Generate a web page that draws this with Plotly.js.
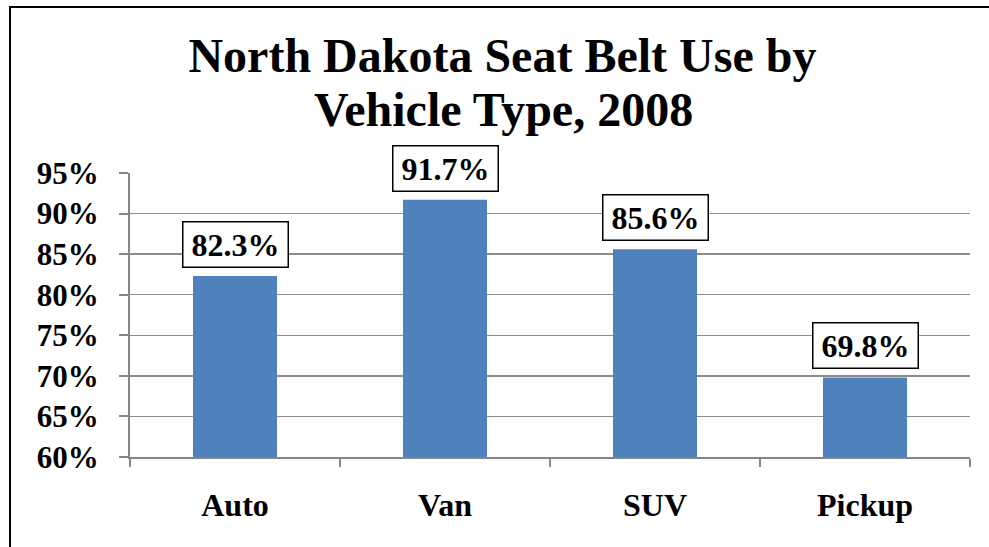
<!DOCTYPE html>
<html>
<head>
<meta charset="utf-8">
<script src="https://cdn.plot.ly/plotly-3.0.1.min.js"></script>
<style>
  html, body { margin: 0; padding: 0; background: #fff; overflow: hidden; }
  #chart { width: 989px; height: 547px; }
  #frame { position: absolute; left: 9px; top: 6px; width: 1000px; height: 600px; border: 2px solid #000; pointer-events: none; }
</style>
</head>
<body>
<div id="chart"></div>
<div id="frame"></div>
<script>
const categories = ["Auto", "Van", "SUV", "Pickup"];
const beltUse = [82.3, 91.7, 85.6, 69.8];
const yTickVals = [60, 65, 70, 75, 80, 85, 90, 95];
const yTickText = ["60%", "65%", "70%", "75%", "80%", "85%", "90%", "95%"];
const titleLine1 = "North Dakota Seat Belt Use by";
const titleLine2 = "Vehicle Type, 2008";

const font = "'Liberation Serif', 'Times New Roman', serif";

const trace = {
  type: "bar",
  x: categories,
  y: beltUse,
  marker: { color: "#4F81BD" },
  width: 0.4,
  hoverinfo: "x+y"
};

const annotations = categories.map((c, i) => ({
  x: c, y: beltUse[i], xref: "x", yref: "y",
  text: "<b>" + beltUse[i].toFixed(1) + "%</b>",
  showarrow: false, yanchor: "bottom", yshift: 8,
  font: { family: font, size: 32, color: "#000" },
  bgcolor: "#fff", bordercolor: "#000", borderwidth: 1.5, borderpad: 4,
  width: 96, height: 36
}));

annotations.push({
  xref: "paper", yref: "paper", x: 0.445, xanchor: "center", y: 1, yanchor: "bottom", yshift: 35,
  text: "<b>" + titleLine2 + "</b>", showarrow: false,
  font: { family: font, size: 48, color: "#000" }
});

const layout = {
  width: 989, height: 547,
  margin: { l: 130, r: 19, t: 173, b: 90 },
  paper_bgcolor: "#fff", plot_bgcolor: "#fff",
  showlegend: false,
  title: {
    text: "<b>" + titleLine1 + "</b>",
    font: { family: font, size: 48, color: "#000" },
    x: 0.508, xanchor: "center", xref: "container",
    y: 0.90, yanchor: "middle", yref: "container"
  },
  xaxis: {
    type: "category",
    showline: true, linecolor: "#868686", linewidth: 2,
    ticks: "outside", tickson: "boundaries", ticklen: 8, tickcolor: "#868686", tickwidth: 2,
    ticklabelstandoff: 19,
    tickfont: { family: font, size: 32, color: "#000", weight: "bold" },
    showgrid: false, fixedrange: true
  },
  yaxis: {
    range: [60, 95],
    tickvals: yTickVals, ticktext: yTickText,
    showline: true, linecolor: "#868686", linewidth: 2,
    ticks: "outside", ticklen: 9, tickcolor: "#868686", tickwidth: 2,
    ticklabelstandoff: 14,
    tickfont: { family: font, size: 31, color: "#000", weight: "bold" },
    showgrid: true, gridcolor: "#8c8c8c", gridwidth: 1.5,
    zeroline: false, fixedrange: true
  },
  annotations: annotations
};

Plotly.newPlot("chart", [trace], layout, { displayModeBar: false, staticPlot: true });
</script>
</body>
</html>
